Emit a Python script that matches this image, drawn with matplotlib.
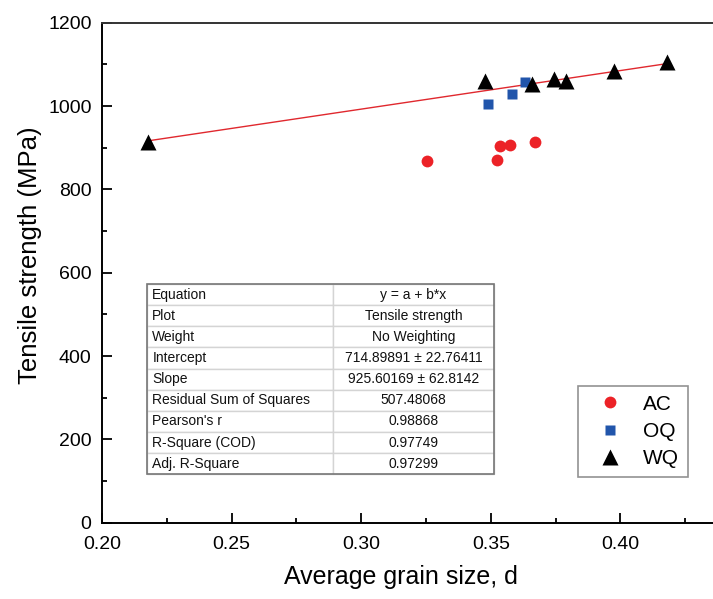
import matplotlib
matplotlib.use("Agg")
import matplotlib.pyplot as plt
from matplotlib.patches import Rectangle
import numpy as np

plt.rcParams['font.family'] = ['Liberation Sans', 'DejaVu Sans']

# grain size (d) vs tensile strength for the three cooling routes
ac_d = [0.3253, 0.3523, 0.3534, 0.3576, 0.3671]
ac_ts = [867, 870, 903, 906, 914]

oq_d = [0.3488, 0.3583, 0.3633]
oq_ts = [1005, 1030, 1058]

wq_d = [0.2179, 0.3478, 0.3659, 0.3742, 0.3792, 0.3977, 0.4180]
wq_ts = [914, 1060, 1053, 1065, 1060, 1085, 1105]

# linear fit of WQ, y = a + b*x
fit_a = 714.89891
fit_b = 925.60169

fit_rows = ["Equation", "Plot", "Weight", "Intercept", "Slope",
            "Residual Sum of Squares", "Pearson's r", "R-Square (COD)",
            "Adj. R-Square"]
fit_vals = ["y = a + b*x", "Tensile strength", "No Weighting",
            "714.89891 \u00b1 22.76411", "925.60169 \u00b1 62.8142",
            "507.48068", "0.98868", "0.97749", "0.97299"]

fig = plt.figure(figsize=(7.13, 5.99), dpi=100)
ax = fig.add_axes([102 / 713, (599 - 522.7) / 599, 611 / 713, 500 / 599])

xf = np.array([min(wq_d), max(wq_d)])
ax.plot(xf, fit_a + fit_b * xf, color='#e0282e', lw=1.0, zorder=2)

ax.plot(ac_d, ac_ts, 'o', color='#ec2227', ms=8.5, mec='none', label='AC', zorder=3)
ax.plot(oq_d, oq_ts, 's', color='#2155ab', ms=7.8, mec='none', label='OQ', zorder=3)
ax.plot(wq_d, wq_ts, '^', color='black', ms=11, mec='none', label='WQ', zorder=4)

ax.set_xlim(0.20, 0.20 + 611 / 2592)
ax.set_ylim(0, 1200)
ax.set_xticks([0.20, 0.25, 0.30, 0.35, 0.40])
ax.set_xticks(np.arange(0.225, 0.44, 0.05), minor=True)
ax.set_yticks(range(0, 1201, 200))
ax.set_yticks(range(100, 1200, 200), minor=True)
ax.xaxis.set_major_formatter(matplotlib.ticker.FormatStrFormatter('%.2f'))

ax.tick_params(which='both', direction='in', width=1.3, labelsize=14, pad=7.5)
ax.tick_params(axis='x', which='both', pad=9.5)
ax.tick_params(which='major', length=7)
ax.tick_params(which='minor', length=3.5)
ax.tick_params(top=False, right=False, which='both')
for s in ['left', 'bottom', 'top']:
    ax.spines[s].set_linewidth(1.4)
ax.spines['top'].set_color('#333333')
ax.spines['right'].set_visible(False)

ax.set_ylabel('Tensile strength (MPa)', fontsize=18.5)
ax.yaxis.set_label_coords(-0.099, 0.535)
ax.set_xlabel('Average grain size, d', fontsize=18)
ax.xaxis.set_label_coords(0.49, -0.085)

leg = ax.legend(loc='lower right', bbox_to_anchor=((687.7 - 102) / 611, (522.7 - 476.7) / 500),
                fontsize=15, frameon=True, fancybox=False, borderpad=0.4,
                handletextpad=0.45, labelspacing=0.4, handlelength=2.3,
                borderaxespad=0)
leg.get_frame().set_edgecolor('#777777')
leg.get_frame().set_linewidth(1.2)

# fit parameter table
tx0, tx1 = (147.3 - 102) / 611, (494.3 - 102) / 611
ty0, ty1 = (522.7 - 474.3) / 500, (522.7 - 284) / 500
cells = [[r, v] for r, v in zip(fit_rows, fit_vals)]
tbl = ax.table(cellText=cells, colWidths=[0.534, 0.466],
               bbox=[tx0, ty0, tx1 - tx0, ty1 - ty0], zorder=5)
tbl.auto_set_font_size(False)
for (r, c), cell in tbl.get_celld().items():
    cell.set_edgecolor('#d4d4d4')
    cell.set_linewidth(1.0)
    cell.set_text_props(fontsize=10, color='#111111')
    if c == 0:
        cell.PAD = 0.027
        cell.set_text_props(ha='left')
        cell._loc = 'left'
    else:
        cell.set_text_props(ha='center')
        cell._loc = 'center'
ax.add_patch(Rectangle((tx0, ty0), tx1 - tx0, ty1 - ty0, transform=ax.transAxes,
                       fill=False, edgecolor='#777777', lw=1.2, zorder=6))

fig.savefig('out.png', dpi=100)
